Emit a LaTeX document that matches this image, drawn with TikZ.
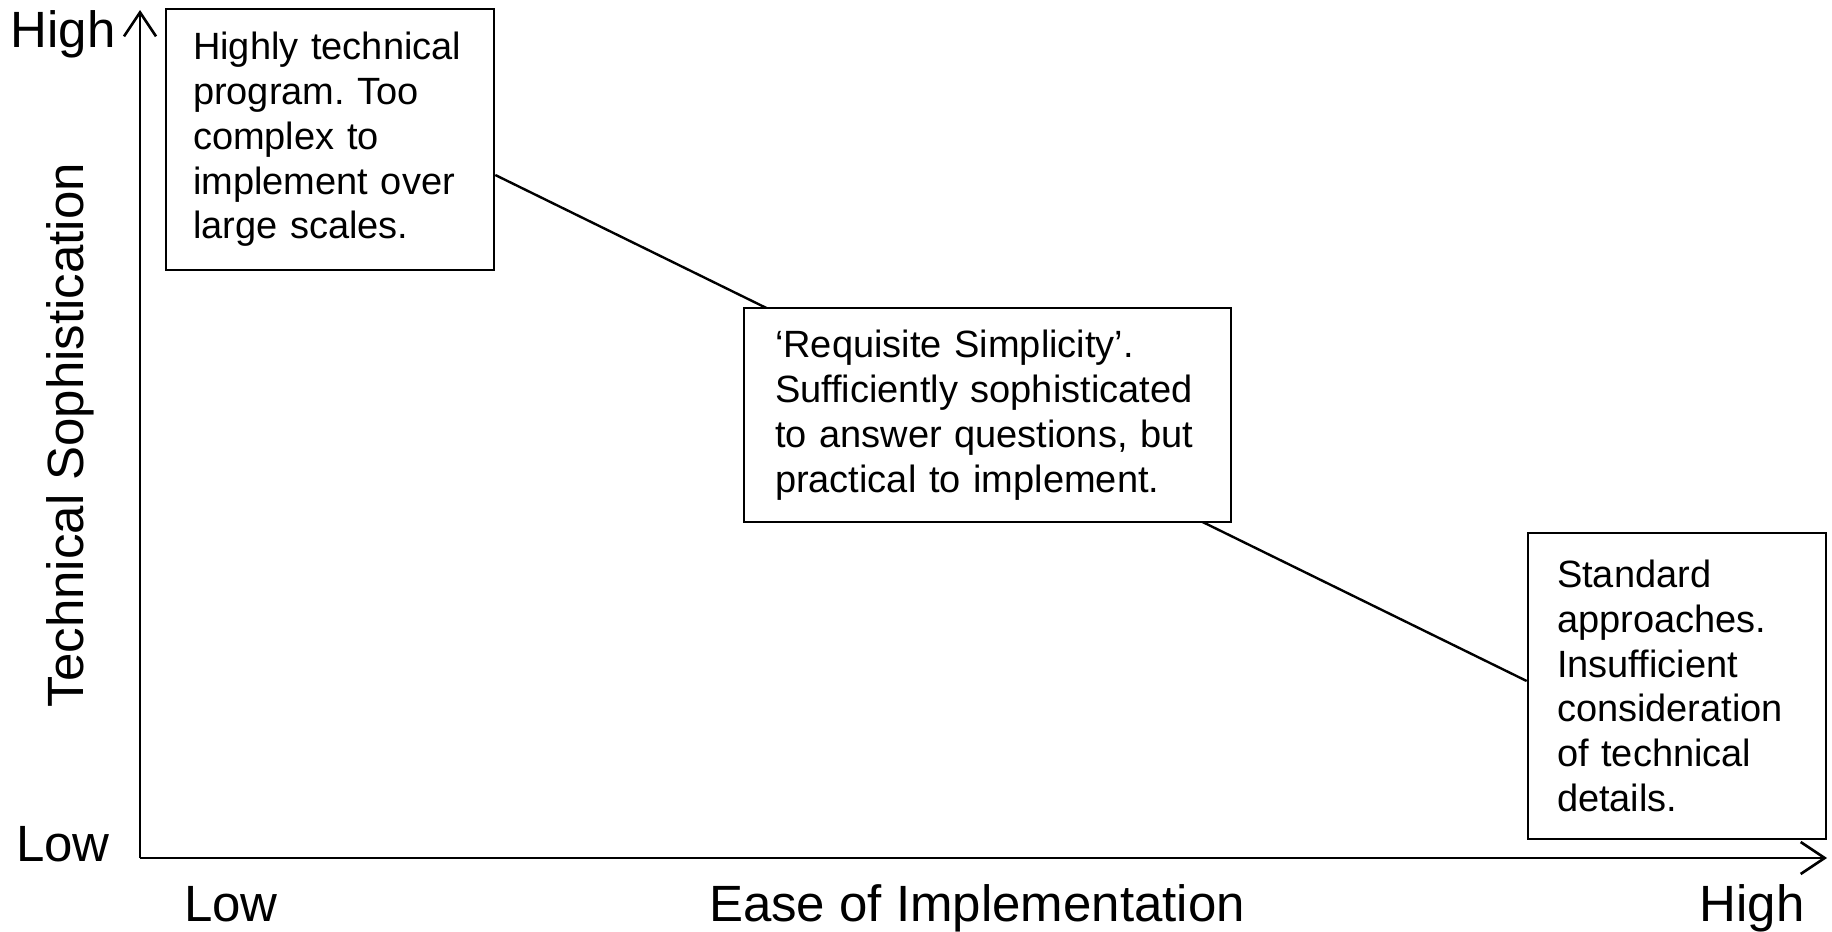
\documentclass[tikz,border=0pt]{standalone}
\usepackage{fontspec}
\setmainfont{Liberation Sans}
\usetikzlibrary{arrows.meta}
\frenchspacing

\tikzset{
  axis/.style={line width=2.6pt, -{Straight Barb[length=24pt,width=32pt]}},
  axislabel/.style={font=\fontsize{51}{58}\selectfont, inner sep=0pt, anchor=base},
  notebox/.style={draw, line width=2.6pt, fill=white, rectangle, align=left,
    font=\fontsize{38}{44.8}\selectfont, inner ysep=0pt},
  slope/.style={line width=2.4pt}
}

\begin{document}
\begin{tikzpicture}[x=1pt, y=-1pt]
  \useasboundingbox (0,0) rectangle (1832,932);

  % axes
  \coordinate (origin) at (140,858);
  \coordinate (ytop) at (140,10);
  \coordinate (xend) at (1827,858);
  \draw[axis] (origin) -- (ytop);
  \draw[axis] (origin) -- (xend);

  % axis labels
  \node[axislabel] (yhigh) at (63,47) {High};
  \node[axislabel] (ylow) at (63,861) {Low};
  \node[axislabel, rotate=90] (ytitle) at (83,435) {Technical Sophistication};
  \node[axislabel] (xlow) at (231,921) {Low};
  \node[axislabel] (xtitle) at (977,921) {Ease of Implementation};
  \node[axislabel] (xhigh) at (1752,921) {High};

  % outer boxes
  \node[notebox, minimum width=328pt, minimum height=261pt, text width=274pt,
        inner xsep=27pt] (b1) at (330,139.5)
    {Highly technical\\program. Too\\complex to\\implement over\\large scales.};
  \node[notebox, minimum width=298pt, minimum height=306pt, text width=240pt,
        inner xsep=29pt] (b3) at (1677,686)
    {Standard\\approaches.\\Insufficient\\consideration\\of technical\\details.};

  % trade-off line, passing behind the middle box
  \draw[slope] ([yshift=-35.5pt]b1.east) -- ([yshift=5pt]b3.west);

  % middle box
  \node[notebox, minimum width=487pt, minimum height=214pt, text width=425pt,
        inner xsep=31pt] (b2) at (987.5,415)
    {‘Requisite Simplicity’.\\Sufficiently sophisticated\\to answer questions, but\\practical to implement.};
\end{tikzpicture}
\end{document}
